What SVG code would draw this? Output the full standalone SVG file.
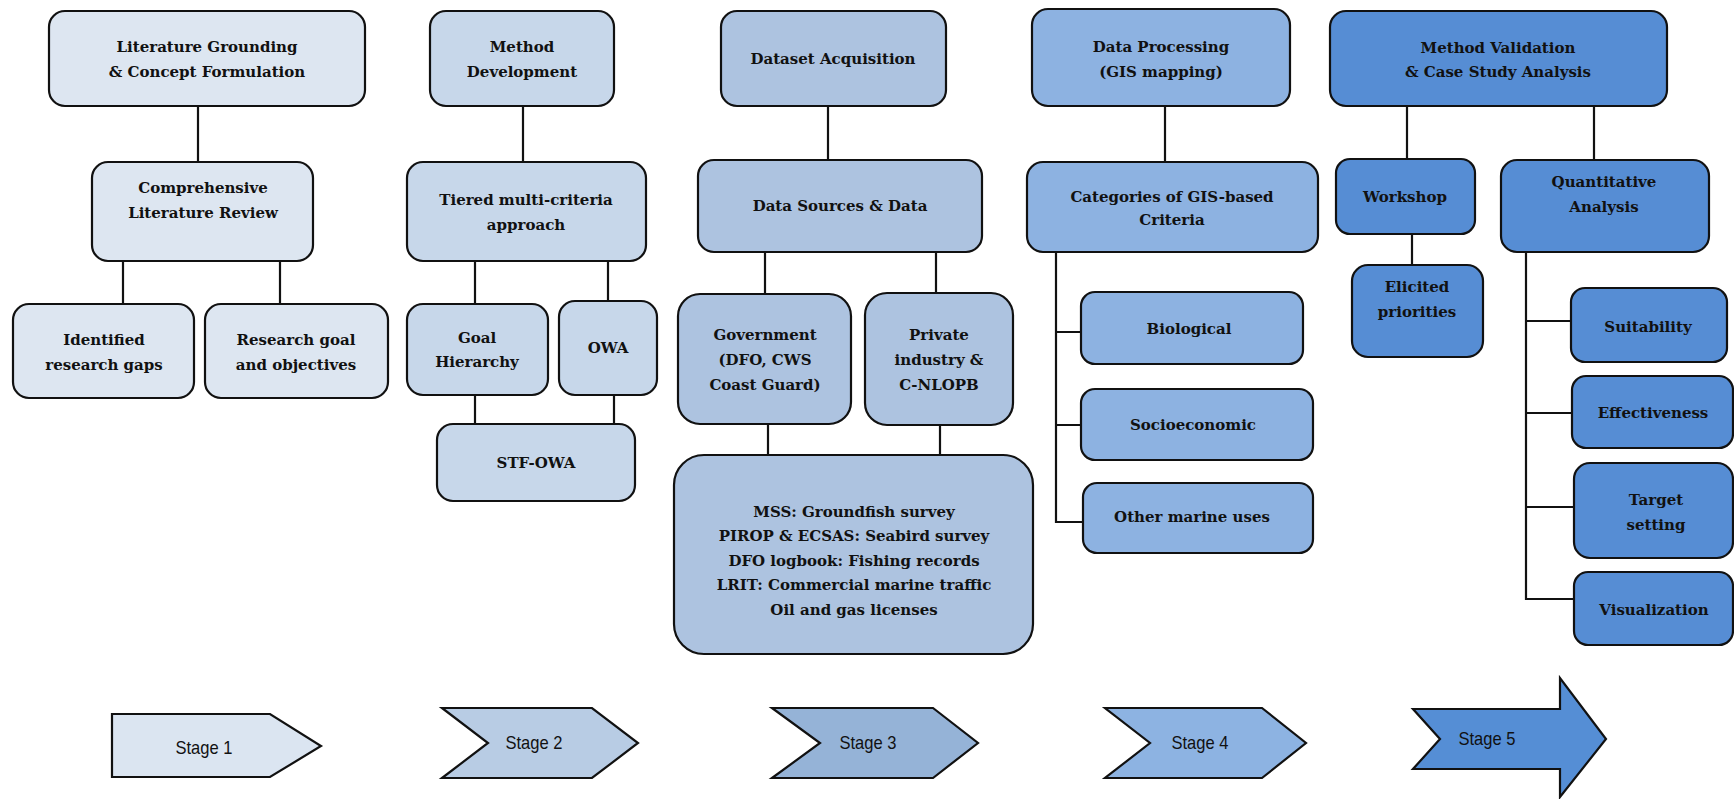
<svg xmlns="http://www.w3.org/2000/svg" width="1734" height="799" viewBox="0 0 1734 799">
<style>
.b{stroke:#111;stroke-width:2.2}
.c1{fill:#dde6f1}.c2{fill:#c7d7ea}.c3{fill:#adc3e0}.c4{fill:#8db2e1}.c5{fill:#568dd4}
.a1{fill:#dbe5f1}.a2{fill:#b8cce4}.a3{fill:#95b3d7}.a4{fill:#8db3e2}.a5{fill:#558ed5}
.t{font-family:"DejaVu Serif","Liberation Serif",serif;font-weight:bold;font-size:15px;fill:#111;text-anchor:middle}
.st{font-family:"Liberation Sans Narrow","Liberation Sans",sans-serif;font-size:19px;fill:#111;text-anchor:middle}
.ln{stroke:#111;stroke-width:2.2;fill:none}
</style>
<rect width="1734" height="799" fill="#fff"/>
<g id="connectors" class="ln">
<path d="M198,106V162M123,261V304M280,261V304"/>
<path d="M523,106V162M475,261V304M608,261V301M475,395V424M614,395V424"/>
<path d="M828,106V160M765,252V294M936,252V293M768,424V455M940,425V455"/>
<path d="M1165,106V162M1056,252V522H1083M1056,332H1081M1056,425H1081"/>
<path d="M1407,106V159M1594,106V160M1412,234V265M1526,252V599H1574M1526,321H1571M1526,413H1572M1526,507H1574"/>
</g>
<g id="n_lit"><rect class="b c1" x="49" y="11" width="316" height="95" rx="16"/><text class="t" x="207" y="52">Literature Grounding</text><text class="t" x="207" y="77">&amp; Concept Formulation</text></g>
<g id="n_review"><rect class="b c1" x="92" y="162" width="221" height="99" rx="16"/><text class="t" x="203" y="193">Comprehensive</text><text class="t" x="203" y="218">Literature Review</text></g>
<g id="n_gaps"><rect class="b c1" x="13" y="304" width="181" height="94" rx="16"/><text class="t" x="104" y="345">Identified</text><text class="t" x="104" y="370">research gaps</text></g>
<g id="n_goal"><rect class="b c1" x="205" y="304" width="183" height="94" rx="16"/><text class="t" x="296" y="345">Research goal</text><text class="t" x="296" y="370">and objectives</text></g>
<g id="n_method"><rect class="b c2" x="430" y="11" width="184" height="95" rx="16"/><text class="t" x="522" y="52">Method</text><text class="t" x="522" y="77">Development</text></g>
<g id="n_tiered"><rect class="b c2" x="407" y="162" width="239" height="99" rx="16"/><text class="t" x="526" y="205">Tiered multi-criteria</text><text class="t" x="526" y="230">approach</text></g>
<g id="n_hier"><rect class="b c2" x="407" y="304" width="141" height="91" rx="16"/><text class="t" x="477" y="343">Goal</text><text class="t" x="477" y="367">Hierarchy</text></g>
<g id="n_owa"><rect class="b c2" x="559" y="301" width="98" height="94" rx="16"/><text class="t" x="608" y="353">OWA</text></g>
<g id="n_stf"><rect class="b c2" x="437" y="424" width="198" height="77" rx="16"/><text class="t" x="536" y="468">STF-OWA</text></g>
<g id="n_dataset"><rect class="b c3" x="721" y="11" width="225" height="95" rx="16"/><text class="t" x="833" y="64">Dataset Acquisition</text></g>
<g id="n_sources"><rect class="b c3" x="698" y="160" width="284" height="92" rx="16"/><text class="t" x="840" y="211">Data Sources &amp; Data</text></g>
<g id="n_gov"><rect class="b c3" x="678" y="294" width="173" height="130" rx="22"/><text class="t" x="765" y="340">Government</text><text class="t" x="765" y="365">(DFO, CWS</text><text class="t" x="765" y="390">Coast Guard)</text></g>
<g id="n_priv"><rect class="b c3" x="865" y="293" width="148" height="132" rx="22"/><text class="t" x="939" y="340">Private</text><text class="t" x="939" y="365">industry &amp;</text><text class="t" x="939" y="390">C-NLOPB</text></g>
<g id="n_mss"><rect class="b c3" x="674" y="455" width="359" height="199" rx="30"/><text class="t" x="854" y="517">MSS: Groundfish survey</text><text class="t" x="854" y="541">PIROP &amp; ECSAS: Seabird survey</text><text class="t" x="854" y="566">DFO logbook: Fishing records</text><text class="t" x="854" y="590">LRIT: Commercial marine traffic</text><text class="t" x="854" y="615">Oil and gas licenses</text></g>
<g id="n_proc"><rect class="b c4" x="1032" y="9" width="258" height="97" rx="16"/><text class="t" x="1161" y="52">Data Processing</text><text class="t" x="1161" y="77">(GIS mapping)</text></g>
<g id="n_cat"><rect class="b c4" x="1027" y="162" width="291" height="90" rx="16"/><text class="t" x="1172" y="202">Categories of GIS-based</text><text class="t" x="1172" y="225">Criteria</text></g>
<g id="n_bio"><rect class="b c4" x="1081" y="292" width="222" height="72" rx="14"/><text class="t" x="1189" y="334">Biological</text></g>
<g id="n_socio"><rect class="b c4" x="1081" y="389" width="232" height="71" rx="14"/><text class="t" x="1193" y="430">Socioeconomic</text></g>
<g id="n_other"><rect class="b c4" x="1083" y="483" width="230" height="70" rx="14"/><text class="t" x="1192" y="522">Other marine uses</text></g>
<g id="n_valid"><rect class="b c5" x="1330" y="11" width="337" height="95" rx="16"/><text class="t" x="1498" y="53">Method Validation</text><text class="t" x="1498" y="77">&amp; Case Study Analysis</text></g>
<g id="n_workshop"><rect class="b c5" x="1336" y="159" width="139" height="75" rx="14"/><text class="t" x="1405" y="202">Workshop</text></g>
<g id="n_elicited"><rect class="b c5" x="1352" y="265" width="131" height="92" rx="16"/><text class="t" x="1417" y="292">Elicited</text><text class="t" x="1417" y="317">priorities</text></g>
<g id="n_quant"><rect class="b c5" x="1501" y="160" width="208" height="92" rx="16"/><text class="t" x="1604" y="187">Quantitative</text><text class="t" x="1604" y="212">Analysis</text></g>
<g id="n_suit"><rect class="b c5" x="1571" y="288" width="156" height="74" rx="14"/><text class="t" x="1648" y="332">Suitability</text></g>
<g id="n_eff"><rect class="b c5" x="1572" y="376" width="161" height="72" rx="14"/><text class="t" x="1653" y="418">Effectiveness</text></g>
<g id="n_target"><rect class="b c5" x="1574" y="463" width="159" height="95" rx="16"/><text class="t" x="1656" y="505">Target</text><text class="t" x="1656" y="530">setting</text></g>
<g id="n_vis"><rect class="b c5" x="1574" y="572" width="159" height="73" rx="14"/><text class="t" x="1654" y="615">Visualization</text></g>
<g id="stage1"><path class="b a1" d="M112,714H270L321,746L270,777H112Z"/><text class="st" x="204" y="754" textLength="57" lengthAdjust="spacingAndGlyphs">Stage 1</text></g>
<g id="stage2"><path class="b a2" d="M442,708H592L638,743L592,778H442L488,743Z"/><text class="st" x="534" y="749" textLength="57" lengthAdjust="spacingAndGlyphs">Stage 2</text></g>
<g id="stage3"><path class="b a3" d="M772,708H933L978,743L933,778H772L820,743Z"/><text class="st" x="868" y="749" textLength="57" lengthAdjust="spacingAndGlyphs">Stage 3</text></g>
<g id="stage4"><path class="b a4" d="M1105,708H1262L1306,743L1262,778H1105L1150,743Z"/><text class="st" x="1200" y="749" textLength="57" lengthAdjust="spacingAndGlyphs">Stage 4</text></g>
<g id="stage5"><path class="b a5" d="M1413,709H1560V678L1606,739L1560,797V769H1413L1440,739Z"/><text class="st" x="1487" y="745" textLength="57" lengthAdjust="spacingAndGlyphs">Stage 5</text></g>
</svg>
